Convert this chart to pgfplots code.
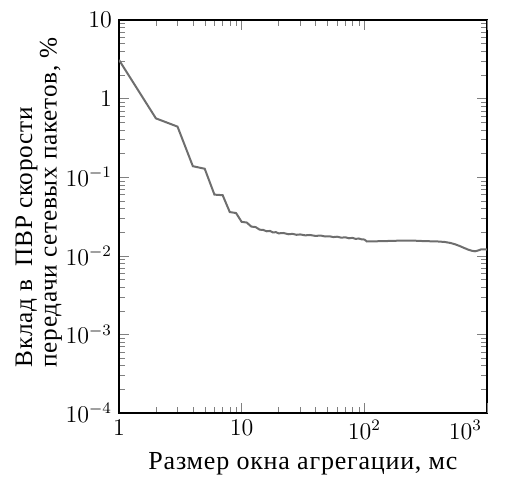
\documentclass[border=0pt]{standalone}
\usepackage{pgfplots}
\pgfplotsset{compat=1.18}
\usepackage{fontspec}
\setmainfont{Liberation Serif}[LetterSpace=3]
\definecolor{linegray}{HTML}{6E6E6E}
\begin{document}
\begin{tikzpicture}[font=\fontsize{13}{13}\selectfont]
\begin{axis}[
  scale only axis,
  width=184pt, height=196.5pt,
  xmode=log, ymode=log,
  xmin=1, xmax=1000, ymin=1e-4, ymax=10,
  xtick={1,10,100},
  xticklabels={$1$,$10$,$10^2$},
  extra x ticks={1000},
  extra x tick labels={$10^3$},
  extra x tick style={xticklabel style={anchor=north east, xshift=1pt}},
  ytick={1e-4,1e-3,1e-2,1e-1,1,10},
  yticklabels={$10^{-4}$,$10^{-3}$,$10^{-2}$,$10^{-1}$,$1$,$10$},
  tick label style={font=\fontsize{12}{14}\selectfont},
  tick align=inside,
  major tick length=5pt, minor tick length=2.8pt,
  xlabel={Размер окна агрегации, мс},
  ylabel={Вклад в\hspace{0.25em} ПВР скорости\\передачи сетевых пакетов, \%},
  ylabel style={align=left, font=\fontsize{12.6}{12.3}\selectfont, yshift=-5pt, xshift=7pt},
  xlabel style={font=\fontsize{13}{15}\selectfont},
  axis line style={line width=0.8pt},
]
\addplot[color=linegray, line width=1pt, no marks] coordinates {
(1,3.1) (2,0.56) (3,0.44) (4,0.138) (5,0.128) (6,0.060) (7,0.059)
(8,0.036) (9,0.035) (10,0.027) (11,0.0265) (12,0.0235) (13,0.0232)
(14,0.0215) (15,0.0213) (16,0.0205) (17,0.0207) (18,0.0198) (19,0.0200)
(20,0.0193) (22,0.0195) (24,0.0188) (26,0.0190) (28,0.0185) (30,0.0187)
(33,0.0182) (36,0.0184) (40,0.0179) (44,0.0181) (48,0.0176) (52,0.0177)
(56,0.0173) (60,0.0175) (65,0.0170) (70,0.0172) (75,0.0167) (80,0.0169)
(85,0.0164) (90,0.0166) (95,0.0162) (100,0.0161) (105,0.0152)
(150,0.0154) (200,0.0156) (250,0.0156) (300,0.0154) (400,0.0152)
(450,0.0150) (500,0.0146) (550,0.0140) (600,0.0133) (650,0.0126)
(700,0.0120) (750,0.0116) (800,0.0114) (850,0.0117) (900,0.0121)
(950,0.0121) (1000,0.0120)
};
\end{axis}
\pgfresetboundingbox
\path ([shift={(-59.5pt,-33.5pt)}]current axis.south west) rectangle ([shift={(9pt,10pt)}]current axis.north east);
\end{tikzpicture}
\end{document}
